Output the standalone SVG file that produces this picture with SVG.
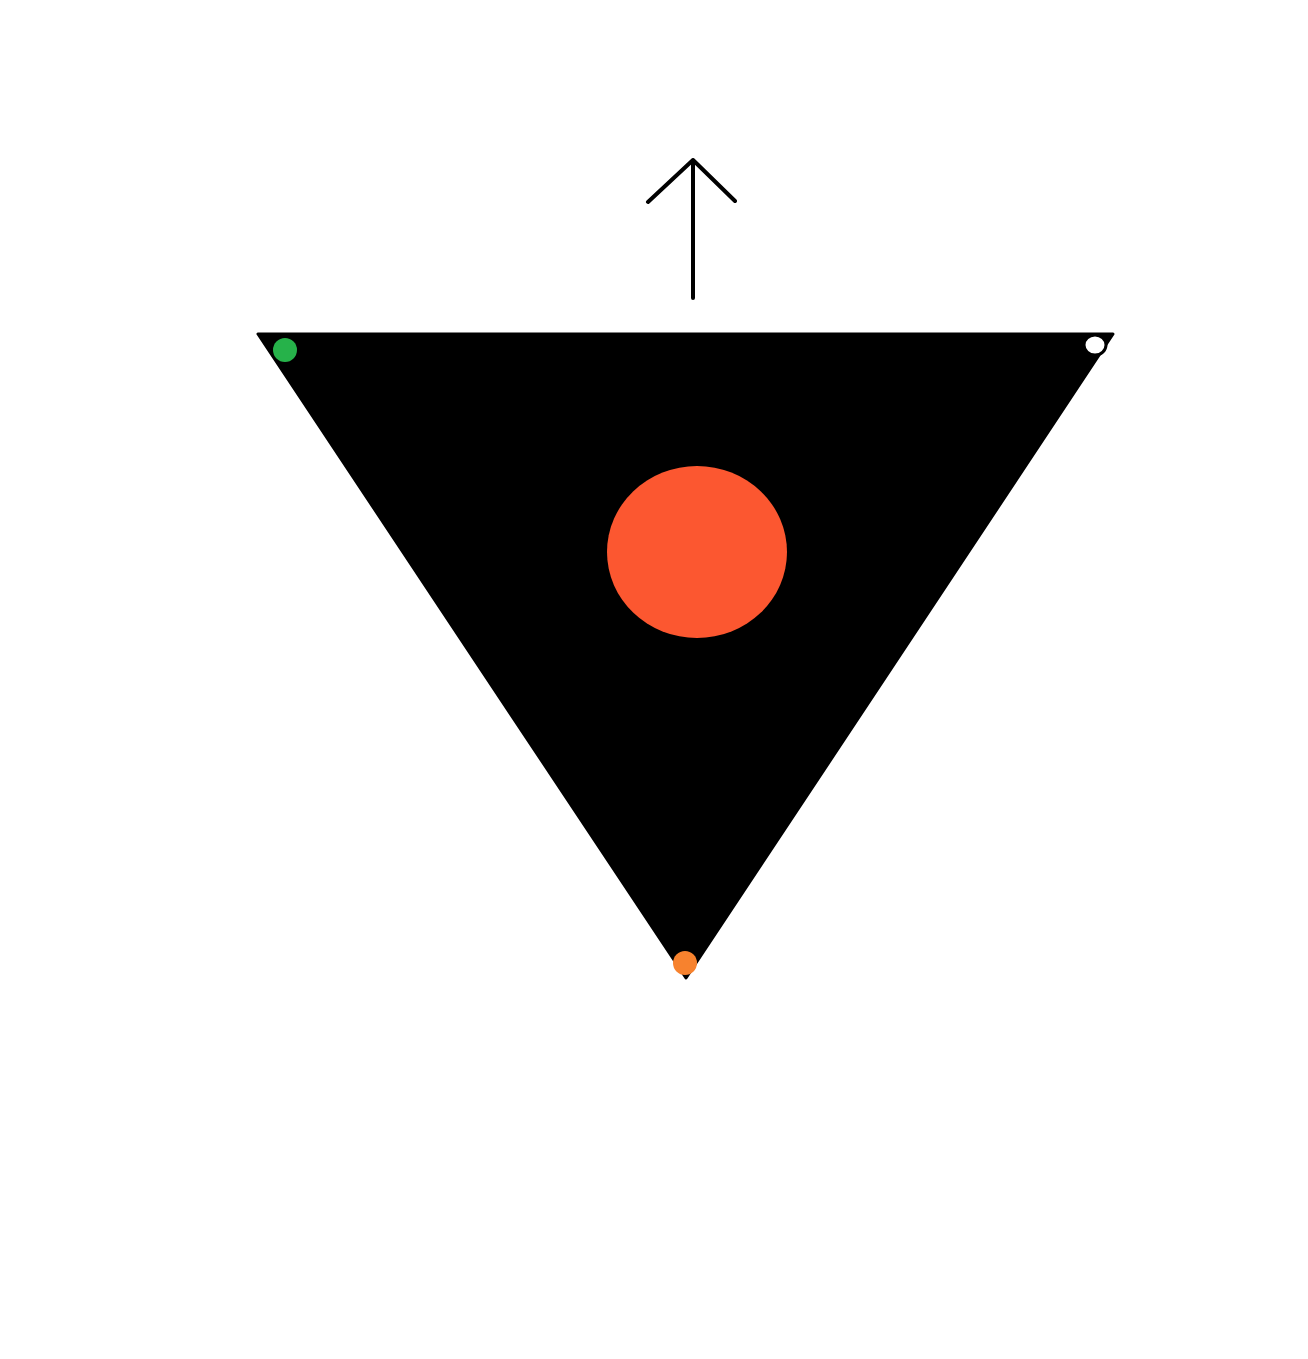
<svg xmlns="http://www.w3.org/2000/svg" width="1308" height="1359" viewBox="0 0 1308 1359">
<style>
.arrow{fill:none;stroke:#000;stroke-width:4;stroke-linecap:round;stroke-linejoin:round}
</style>
<rect width="1308" height="1359" fill="#fff"/>
<g id="triangle">
<polygon points="258,334 1113,334 686,978" fill="#000" stroke="#000" stroke-width="3" stroke-linejoin="round"/>
</g>
<g id="center-circle">
<ellipse cx="697" cy="552" rx="90" ry="86" fill="#fc5730"/>
</g>
<g id="vertex-green">
<circle cx="285" cy="350" r="12" fill="#26b24a"/>
</g>
<g id="vertex-white">
<ellipse cx="1095" cy="345" rx="11" ry="10" fill="#fff" stroke="#000" stroke-width="3"/>
</g>
<g id="vertex-orange">
<circle cx="685" cy="963" r="12" fill="#f7822e"/>
</g>
<g id="connectors">
<path class="arrow" d="M693,298 L693,160 M648,202 L693,160 L735,201"/>
</g>
</svg>
